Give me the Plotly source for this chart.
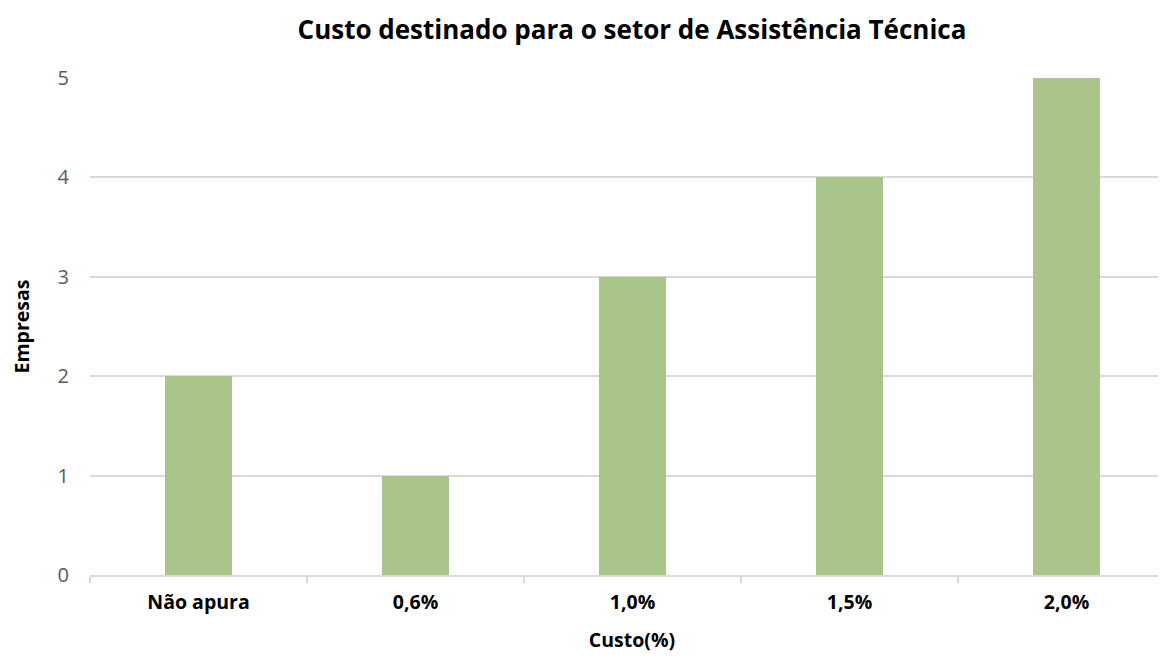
import plotly.graph_objects as go

categories = ["Não apura", "0,6%", "1,0%", "1,5%", "2,0%"]
empresas = [2, 1, 3, 4, 5]

title_text = "Custo destinado para o setor de Assistência Técnica"
x_title = "Custo(%)"
y_title = "Empresas"

fig = go.Figure(go.Bar(
    x=categories, y=empresas,
    marker=dict(color="#A9C58A", line=dict(width=0)),
    width=0.31,
))

fig.update_layout(
    width=1166, height=657,
    margin=dict(l=82, r=0, t=70, b=90),
    paper_bgcolor="white", plot_bgcolor="white",
    font=dict(family="Open Sans", color="#595959"),
    title=dict(text="<b>" + title_text + "</b>", x=0.5, xref="paper", xanchor="center",
               y=1 - 22 / 657, yanchor="middle",
               font=dict(size=26, color="black", family="Open Sans")),
    showlegend=False,
    bargap=0,
)
fig.update_xaxes(
    type="category",
    range=[-0.5, 4.495],
    tickson="boundaries",
    ticks="outside", ticklen=6, tickcolor="#d9d9d9", tickwidth=1.5,
    showline=True, linecolor="#d9d9d9", linewidth=1.5,
    showgrid=False,
    tickfont=dict(size=19.5, color="black", family="Open Sans", weight="bold"),
    ticklabelstandoff=9,
    title=dict(text="<b>" + x_title + "</b>", font=dict(size=19.5, color="black"), standoff=19),
)
fig.update_yaxes(
    range=[0, 5], dtick=1,
    showgrid=True, gridcolor="#d9d9d9", gridwidth=1.5,
    zeroline=False, showline=False,
    tickfont=dict(size=20, color="#595959"),
    ticks="", ticklabelstandoff=20,
    title=dict(text="<b>" + y_title + "</b>", font=dict(size=19.5, color="black"), standoff=22),
)

fig.write_html("out.html")
